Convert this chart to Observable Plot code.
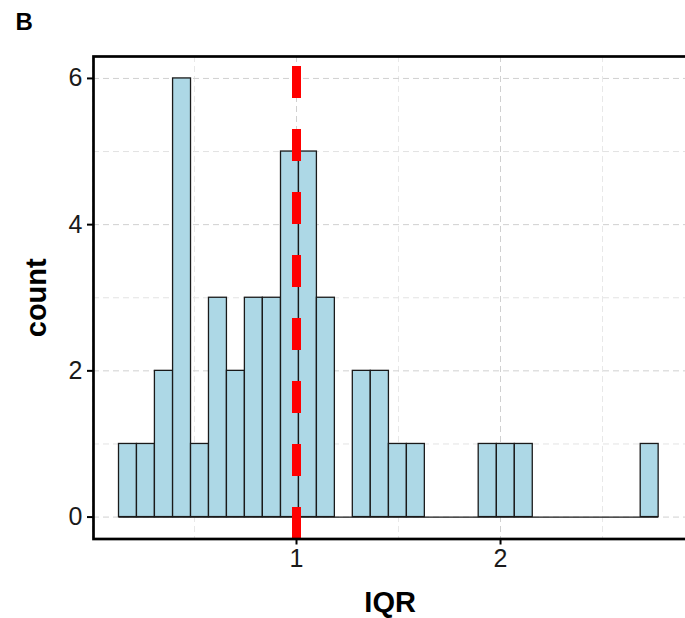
<!DOCTYPE html>
<html>
<head>
<meta charset="utf-8">
<script src="https://cdn.jsdelivr.net/npm/d3@7"></script>
<script src="https://cdn.jsdelivr.net/npm/@observablehq/plot@0.6"></script>
<style>
  html, body { margin: 0; padding: 0; background: white; }
  #chart { width: 685px; height: 618px; }
</style>
</head>
<body>
<div id="chart"></div>
<script>
// Histogram of IQR (30 bins) — bin edges and counts
const binEdges = [0.130, 0.218, 0.306, 0.395, 0.483, 0.571, 0.659, 0.747, 0.835, 0.924,
                  1.012, 1.100, 1.188, 1.276, 1.364, 1.453, 1.541, 1.629, 1.717, 1.805,
                  1.893, 1.982, 2.070, 2.158, 2.246, 2.334, 2.422, 2.511, 2.599, 2.687, 2.775];
const counts = [1, 1, 2, 6, 1, 3, 2, 3, 3, 5,
                5, 3, 0, 2, 2, 1, 1, 0, 0, 0,
                1, 1, 1, 0, 0, 0, 0, 0, 0, 1];
const referenceLine = [1.0];
const xTicks = [1, 2];
const xMinorGrid = [0.5, 1.5, 2.5];
const xMajorGrid = [0, 1, 2];
const yTicks = [0, 2, 4, 6];
const yMinorGrid = [1, 3, 5];
const xDomain = [0.005, 2.913];
const yDomain = [-0.3, 6.3];
const panelLabel = "B";
const xLabel = "IQR";
const yLabel = "count";

const bins = counts.map((c, i) => ({x1: binEdges[i], x2: binEdges[i + 1], y1: 0, y2: c}));
const baseline = [{y: 0, x1: binEdges[0], x2: binEdges[binEdges.length - 1]}];

const font = "'Liberation Sans', Arial, Helvetica, sans-serif";

const chart = Plot.plot({
  width: 685,
  height: 618,
  marginLeft: 93,
  marginRight: -1.3,
  marginTop: 56,
  marginBottom: 79.5,
  style: {fontFamily: font, background: "white", color: "black", overflow: "visible"},
  x: {domain: xDomain, label: null},
  y: {domain: yDomain, label: null},
  marks: [
    Plot.gridX(xMinorGrid, {stroke: "#e8e8e8", strokeOpacity: 1, strokeWidth: 1, strokeDasharray: "6,4"}),
    Plot.gridY(yMinorGrid, {stroke: "#e3e3e3", strokeOpacity: 1, strokeWidth: 1, strokeDasharray: "6,4"}),
    Plot.gridX(xMajorGrid, {stroke: "#d0d0d0", strokeOpacity: 1, strokeWidth: 1, strokeDasharray: "6,4"}),
    Plot.gridY(yTicks, {stroke: "#d0d0d0", strokeOpacity: 1, strokeWidth: 1, strokeDasharray: "6,4"}),
    Plot.ruleY(baseline, {y: "y", x1: "x1", x2: "x2", stroke: "#1a1a1a", strokeWidth: 1.3}),
    Plot.rectY(bins.filter(d => d.y2 > 0), {x1: "x1", x2: "x2", y1: "y1", y2: "y2",
      fill: "#ADD8E6", stroke: "#1a1a1a", strokeWidth: 1.3, inset: 0}),
    Plot.ruleX(referenceLine, {stroke: "red", strokeWidth: 9, strokeDasharray: "32,31", strokeDashoffset: 53}),
    Plot.frame({stroke: "black", strokeWidth: 2.7}),
    Plot.axisY(yTicks, {tickSize: 6, tickPadding: 5, fontSize: 25, strokeWidth: 2, label: null, fill: "#1a1a1a", tickFormat: d => String(d)}),
    Plot.axisX(xTicks, {tickSize: 6, tickPadding: 4, fontSize: 25, strokeWidth: 2, label: null, fill: "#1a1a1a", tickFormat: d => String(d)}),
    Plot.text([yLabel], {frameAnchor: "left", textAnchor: "middle", lineAnchor: "middle", rotate: -90, dx: -57, fontSize: 29, fontWeight: "bold", fill: "black"}),
    Plot.text([xLabel], {frameAnchor: "bottom", textAnchor: "middle", lineAnchor: "middle", dy: 64, fontSize: 29, fontWeight: "bold", fill: "black"}),
    Plot.text([panelLabel], {frameAnchor: "top-left", textAnchor: "start", lineAnchor: "middle", dx: -78, dy: -34, fontSize: 24, fontWeight: "bold", fill: "black"})
  ]
});
document.getElementById("chart").appendChild(chart);
</script>
</body>
</html>
